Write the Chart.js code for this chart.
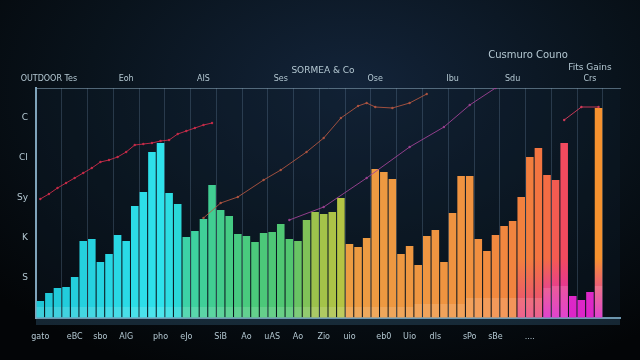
<!DOCTYPE html>
<html>
<head>
<meta charset="utf-8">
<script src="https://cdn.jsdelivr.net/npm/chart.js@4.4.1/dist/chart.umd.min.js"></script>
<style>
    html, body {
        margin: 0;
        padding: 0;
        width: 640px;
        height: 360px;
        overflow: hidden;
        background: radial-gradient(ellipse 75% 85% at 55% 25%, #13243a 0%, #09131c 55%, #030507 100%);
    }
    #chart { display: block; }
</style>
</head>
<body>
<canvas id="chart" width="640" height="360"></canvas>
<script>
// 66 bars plus two empty slots at the right edge
const categories = Array.from({ length: 68 }, (_, i) => String(i + 1));

const barValues = [
    8.5, 12.5, 15, 15.5, 20.5, 38.5, 39.5, 28, 32, 41.5,
    38.5, 56, 63, 83, 87.5, 62.5, 57, 40.5, 43.5, 49.5,
    66.5, 54, 51, 42, 41, 38, 42.5, 43, 47, 39.5,
    38.5, 49, 53, 52, 53, 60, 37, 35.5, 40, 74.5,
    73, 69.5, 32, 36, 26.5, 41, 44, 28, 52.5, 71,
    71, 39.5, 33.5, 41.5, 46, 48.5, 60.5, 80.5, 85, 71.5,
    69, 87.5, 11, 9, 13, 105, null, null
];

// light band at the foot of the bars
const baseValues = [
    5.5, 5.5, 5.5, 5.5, 5.5, 5.5, 5.5, 5.5, 5.5, 5.5,
    5.5, 5.5, 5.5, 5.5, 5.5, 5.5, 5.5, 5.5, 5.5, 5.5,
    5.5, 5.5, 5.5, 5.5, 5.5, 5.5, 5.5, 5.5, 5.5, 5.5,
    5.5, 5.5, 5.5, 5.5, 5.5, 5.5, 5.5, 5.5, 5.5, 5.5,
    5.5, 5.5, 5.5, 5.5, 7, 7, 7, 7, 7, 7,
    10, 10, 10, 10, 10, 10, 10, 10, 10, 15,
    16, 16, null, null, null, 16, null, null
];

// [category index, value] pairs for the trend lines
const lineA = [
    [0, 59.5], [1, 62], [2, 65], [3, 67.5], [4, 70], [5, 72.5], [6, 75], [7, 78],
    [8, 79], [9, 80.5], [10, 83], [11, 86.5], [12, 87], [13, 87.5], [14, 88.5],
    [15, 89], [16, 92], [17, 93.5], [18, 95], [19, 96.5], [20, 97.5]
];
const lineB = [
    [19, 50], [21, 57.5], [23, 60.5], [26, 69], [28, 74], [31, 83], [33, 90],
    [35, 100], [37, 106], [38, 107.5], [39, 105.5], [41, 105], [43, 107.5], [45, 112]
];
const lineC = [
    [29, 49], [33, 55.5], [38, 70], [43, 85.5], [47, 95.5], [50, 106.5], [53, 115]
];
const lineD = [
    [61, 99], [63, 105.5], [65, 105.5]
];

const yTickValues = [20, 40, 60, 80, 100];
const yTickLabels = ['S', 'K', 'Sy', 'CI', 'C'];

const bottomLabelAt = [0, 4, 7, 10, 14, 17, 21, 24, 27, 30, 33, 36, 40, 43, 46, 50, 53, 57];
const bottomLabelText = ['gato', 'eBC', 'sbo', 'AlG', 'pho', 'eJo', 'SiB', 'Ao', 'uAS', 'Ao',
    'Zio', 'uio', 'eb0', 'Uio', 'dls', 'sPo', 'sBe', '....'];

const topLabelAt = [1, 10, 19, 28, 39, 48, 55, 64];
const topLabelText = ['OUTDOOR Tes', 'Eoh', 'AIS', 'Ses', 'Ose', 'Ibu', 'Sdu', 'Crs'];

const textColor = '#b4c8d2';

const topStops = [
    [0, '#1fc6d6'], [14, '#2fe2ec'], [16, '#2ad8d8'], [17, '#3cd2a6'], [22, '#45cb84'],
    [29, '#52c670'], [31, '#80c258'], [32, '#9cc24c'], [35, '#b4c444'], [36, '#ec9c42'],
    [50, '#f09240'], [57, '#f27e3e'], [59, '#f46c44'], [61, '#f24a5e'], [62, '#de2ec6'],
    [64, '#de2ec6'], [65, '#f6922f'], [67, '#f6922f']
];

function hexToRgb(h) {
    return [parseInt(h.slice(1, 3), 16), parseInt(h.slice(3, 5), 16), parseInt(h.slice(5, 7), 16)];
}

function topColor(i) {
    for (let k = 0; k < topStops.length - 1; k++) {
        const [i0, c0] = topStops[k];
        const [i1, c1] = topStops[k + 1];
        if (i >= i0 && i <= i1) {
            const t = i1 === i0 ? 0 : (i - i0) / (i1 - i0);
            const a = hexToRgb(c0), b = hexToRgb(c1);
            const m = a.map((v, j) => Math.round(v + (b[j] - v) * t));
            return `rgb(${m[0]}, ${m[1]}, ${m[2]})`;
        }
    }
    return '#f6922f';
}

function bottomColor(i) {
    if (i >= 59) return '#dc24c8';
    if (i >= 56) return '#e8487e';
    return topColor(i);
}

function barFill(ctx) {
    const chart = ctx.chart;
    const area = chart.chartArea;
    const i = ctx.dataIndex;
    if (!area) return topColor(i);
    const g = chart.ctx.createLinearGradient(0, area.top, 0, area.bottom);
    g.addColorStop(0, topColor(i));
    g.addColorStop(0.74, topColor(i));
    g.addColorStop(1, bottomColor(i));
    return g;
}

function toPoints(pairs) {
    return pairs.map(p => ({ x: categories[p[0]], y: p[1] }));
}

function lineDataset(label, pairs, color) {
    return {
        type: 'line',
        label: label,
        data: toPoints(pairs),
        borderColor: color,
        backgroundColor: color,
        borderWidth: 1,
        pointRadius: 1.2,
        pointBorderWidth: 0,
        tension: 0,
        order: 0
    };
}

const backdrop = {
    id: 'backdrop',
    beforeDraw(chart) {
        const { ctx, chartArea: a } = chart;
        ctx.save();
        ctx.fillStyle = 'rgba(14, 28, 42, 0.35)';
        ctx.fillRect(a.left, a.top, a.right - a.left, a.bottom - a.top);
        ctx.fillStyle = 'rgba(45, 80, 105, 0.45)';
        ctx.fillRect(a.left, a.bottom, a.right - a.left, 7);
        ctx.restore();
    },
    afterDraw(chart) {
        const ctx = chart.ctx;
        ctx.save();
        ctx.fillStyle = textColor;
        ctx.textAlign = 'center';
        ctx.textBaseline = 'middle';
        ctx.font = '9px "DejaVu Sans"';
        ctx.fillText('SORMEA & Co', 323, 71);
        ctx.font = '10px "DejaVu Sans"';
        ctx.fillText('Cusmuro Couno', 528, 55);
        ctx.font = '9px "DejaVu Sans"';
        ctx.fillText('Fits Gains', 590, 68);
        ctx.restore();
    }
};

new Chart(document.getElementById('chart'), {
    type: 'bar',
    data: {
        labels: categories,
        datasets: [
            lineDataset('A', lineA, 'rgba(206, 44, 74, 0.9)'),
            lineDataset('B', lineB, 'rgba(186, 88, 66, 0.85)'),
            lineDataset('C', lineC, 'rgba(160, 66, 150, 0.9)'),
            lineDataset('D', lineD, 'rgba(220, 60, 92, 0.9)'),
            {
                label: 'base',
                data: baseValues,
                backgroundColor: 'rgba(255, 255, 255, 0.14)',
                grouped: false,
                barPercentage: 0.86,
                categoryPercentage: 1,
                order: 1
            },
            {
                label: 'bars',
                data: barValues,
                backgroundColor: barFill,
                grouped: false,
                barPercentage: 0.88,
                categoryPercentage: 1,
                order: 2
            }
        ]
    },
    options: {
        responsive: false,
        animation: false,
        layout: { padding: { left: 0, right: 20, top: 0, bottom: 0 } },
        plugins: {
            legend: { display: false },
            title: { display: false },
            tooltip: { enabled: false }
        },
        scales: {
            x: {
                position: 'bottom',
                offset: true,
                afterFit: scale => { scale.height = 42; },
                grid: {
                    display: true,
                    offset: true,
                    drawTicks: false,
                    color: ctx => ctx.index % 3 === 0 ? 'rgba(110, 140, 165, 0.3)' : 'rgba(0, 0, 0, 0)'
                },
                border: { display: true, color: '#6d97b0', width: 2 },
                ticks: {
                    autoSkip: false,
                    maxRotation: 0,
                    minRotation: 0,
                    padding: 14,
                    color: textColor,
                    font: { family: 'DejaVu Sans', size: 8 },
                    callback: (val, idx) => {
                        const k = bottomLabelAt.indexOf(idx);
                        return k === -1 ? '' : bottomLabelText[k];
                    }
                }
            },
            x2: {
                type: 'category',
                labels: categories,
                position: 'top',
                offset: true,
                afterFit: scale => { scale.height = 88; },
                grid: { display: true, drawTicks: false, color: 'rgba(0, 0, 0, 0)' },
                border: { display: true, color: 'rgba(140, 170, 190, 0.55)', width: 1 },
                ticks: {
                    autoSkip: false,
                    maxRotation: 0,
                    minRotation: 0,
                    padding: 4,
                    color: textColor,
                    font: { family: 'DejaVu Sans', size: 8 },
                    callback: (val, idx) => {
                        const k = topLabelAt.indexOf(idx);
                        return k === -1 ? '' : topLabelText[k];
                    }
                }
            },
            y: {
                min: 0,
                max: 115,
                afterFit: scale => { scale.width = 36; },
                grid: { display: true, drawTicks: false, color: 'rgba(0, 0, 0, 0)' },
                border: { display: true, color: '#7fa3ba', width: 2 },
                ticks: {
                    stepSize: 20,
                    padding: 8,
                    color: textColor,
                    font: { family: 'DejaVu Sans', size: 9 },
                    callback: value => {
                        const k = yTickValues.indexOf(value);
                        return k === -1 ? '' : yTickLabels[k];
                    }
                }
            }
        }
    },
    plugins: [backdrop]
});
</script>
</body>
</html>
